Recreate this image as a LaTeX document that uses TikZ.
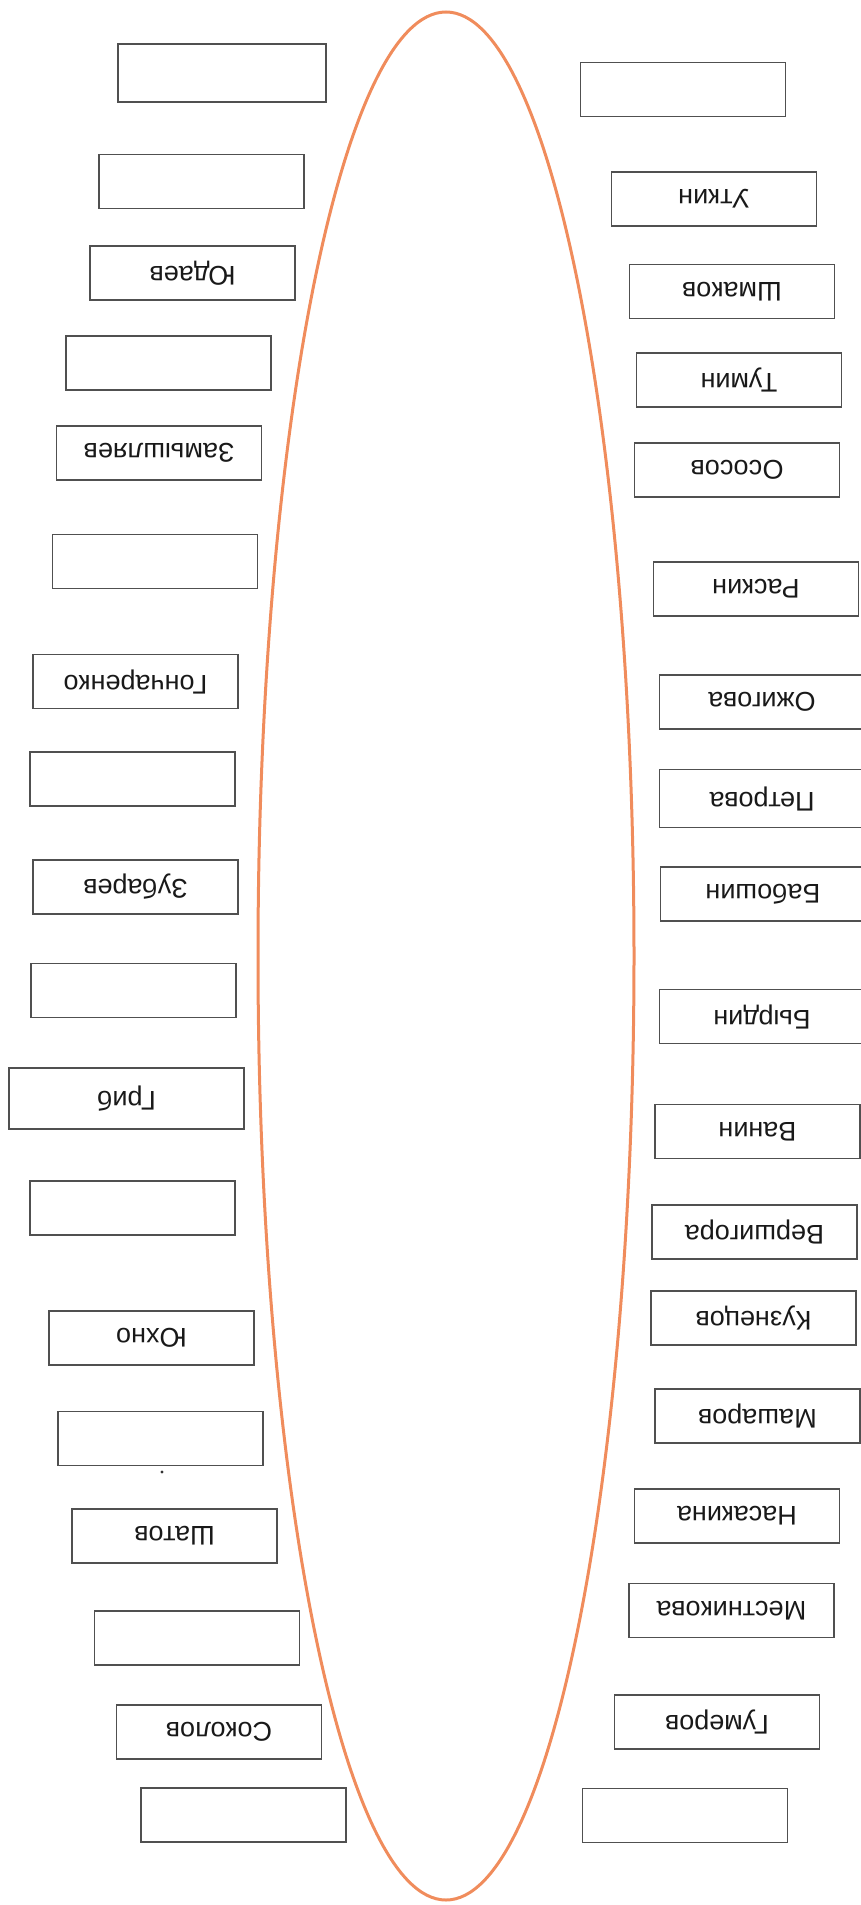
\documentclass[tikz,border=0pt]{standalone}
\usepackage{fontspec}
\setmainfont{Liberation Sans}
\definecolor{ovalorange}{RGB}{240,140,92}
\definecolor{boxgray}{RGB}{80,80,80}
\begin{document}
\begin{tikzpicture}[x=0.5pt,y=-0.5pt,
  namebox/.style={rectangle, draw=boxgray, line width=0.8pt, inner sep=0pt,
    minimum width=102.5pt, minimum height=27pt, rotate=180,
    font=\fontsize{13.5}{15}\selectfont, text=black!90}]
\useasboundingbox (0,0) rectangle (861,1905);

\draw[ovalorange, line width=1.5pt] (446,956) ellipse [x radius=188, y radius=944];

% left column
\node[namebox, minimum width=104pt, minimum height=29pt](l1) at (222,73) {};
\node[namebox](l2) at (201.5,181.5) {};
\node[namebox](l3) at (192.5,273) {Юдаев};
\node[namebox](l4) at (168.5,363) {};
\node[namebox](l5) at (159,453) {Замышляев};
\node[namebox](l6) at (155,561.5) {};
\node[namebox](l7) at (135.5,681.5) {Гончаренко};
\node[namebox](l8) at (132.5,779) {};
\node[namebox](l9) at (135.5,887) {Зубарев};
\node[namebox](l10) at (133.5,990.5) {};
\node[namebox, minimum width=117.5pt, minimum height=30.5pt](l11) at (126.5,1098.5) {Гриб};
\node[namebox](l12) at (132.5,1208) {};
\node[namebox](l13) at (151.5,1338) {Юхно};
\node[namebox](l14) at (160.5,1438.5) {};
\node[namebox](l15) at (174.5,1536) {Шатов};
\node[namebox](l16) at (197,1638) {};
\node[namebox](l17) at (219,1732) {Соколов};
\node[namebox](l18) at (243.5,1815) {};

\fill[black!80] (162,1472) circle (0.8pt);

% right column
\node[namebox](r1) at (683,89.5) {};
\node[namebox](r2) at (714,199) {Уткин};
\node[namebox](r3) at (732,291.5) {Шмаков};
\node[namebox](r4) at (739,380) {Тумин};
\node[namebox](r5) at (737,470) {Ососов};
\node[namebox](r6) at (756,589) {Раскин};
\node[namebox](r7) at (762,702) {Ожигова};
\node[namebox, minimum height=29pt](r8) at (762,798.5) {Петрова};
\node[namebox](r9) at (763,894) {Бабошин};
\node[namebox](r10) at (762,1016.5) {Бырдин};
\node[namebox](r11) at (757.5,1131.5) {Ванин};
\node[namebox](r12) at (754.5,1232) {Вершигора};
\node[namebox](r13) at (753.5,1318) {Кузнецов};
\node[namebox](r14) at (757.5,1416) {Машаров};
\node[namebox](r15) at (737,1516) {Насакина};
\node[namebox](r16) at (731.5,1610.5) {Местникова};
\node[namebox](r17) at (717,1722) {Гумеров};
\node[namebox](r18) at (685,1815.5) {};
\end{tikzpicture}
\end{document}
